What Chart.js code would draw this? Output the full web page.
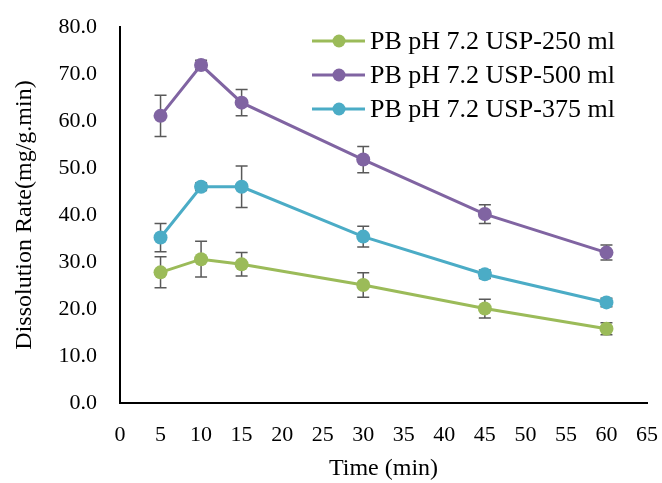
<!DOCTYPE html>
<html>
<head>
<meta charset="utf-8">
<script src="https://cdn.jsdelivr.net/npm/chart.js@4.4.0/dist/chart.umd.min.js"></script>
<style>
  html, body { margin: 0; padding: 0; background: #fff; }
  #wrap { width: 662px; height: 483px; }
</style>
</head>
<body>
<div id="wrap"><canvas id="dissolutionChart"></canvas></div>
<script>
const times = [5, 10, 15, 30, 45, 60];
const xTicks = [0, 5, 10, 15, 20, 25, 30, 35, 40, 45, 50, 55, 60, 65];
const yTicks = [0, 10, 20, 30, 40, 50, 60, 70, 80];

const labels = ['PB pH 7.2 USP-250 ml', 'PB pH 7.2 USP-500 ml', 'PB pH 7.2 USP-375 ml'];
const usp250 = [27.8, 30.6, 29.5, 25.1, 20.1, 15.8];
const usp500 = [61.1, 71.9, 63.9, 51.8, 40.2, 32.0];
const usp375 = [35.2, 46.0, 46.0, 35.4, 27.4, 21.4];
const err250 = [3.3, 3.8, 2.5, 2.6, 2.0, 1.3];
const err500 = [4.4, 1.0, 2.8, 2.8, 2.0, 1.6];
const err375 = [3.0, 0.8, 4.4, 2.2, 0.9, 0.9];

const colors = ['#9BBB59', '#8064A2', '#4BACC6'];
const serif = '"Liberation Serif", "Times New Roman", serif';

function toPoints(vals) {
    return times.map((t, i) => ({ x: t, y: vals[i] }));
}

const series = [usp250, usp500, usp375];
const errors = [err250, err500, err375];

const errorBars = {
    id: 'errorBars',
    beforeDatasetsDraw(chart) {
        const { ctx, scales: { x, y } } = chart;
        ctx.save();
        ctx.strokeStyle = '#595959';
        ctx.lineWidth = 1.5;
        series.forEach((vals, s) => {
            vals.forEach((v, i) => {
                const px = x.getPixelForValue(times[i]);
                const top = y.getPixelForValue(v + errors[s][i]);
                const bot = y.getPixelForValue(v - errors[s][i]);
                ctx.beginPath();
                ctx.moveTo(px, top); ctx.lineTo(px, bot);
                ctx.moveTo(px - 6, top); ctx.lineTo(px + 6, top);
                ctx.moveTo(px - 6, bot); ctx.lineTo(px + 6, bot);
                ctx.stroke();
            });
        });
        ctx.restore();
    }
};

// legend drawn inside the plot, Excel style (line with a marker)
const insideLegend = {
    id: 'insideLegend',
    afterDraw(chart) {
        const ctx = chart.ctx;
        ctx.save();
        ctx.font = '26px ' + serif;
        ctx.textBaseline = 'middle';
        chart.data.datasets.forEach((ds, i) => {
            const yy = 41 + i * 34;
            ctx.strokeStyle = ds.borderColor;
            ctx.lineWidth = 3;
            ctx.beginPath();
            ctx.moveTo(312, yy); ctx.lineTo(365, yy);
            ctx.stroke();
            ctx.fillStyle = ds.borderColor;
            ctx.beginPath();
            ctx.arc(339, yy, 6.5, 0, Math.PI * 2);
            ctx.fill();
            ctx.fillStyle = '#000';
            ctx.fillText(ds.label, 370, yy + 1);
        });
        ctx.restore();
    }
};

const ctx = document.getElementById('dissolutionChart').getContext('2d');

new Chart(ctx, {
    type: 'line',
    data: {
        datasets: series.map((vals, i) => ({
            label: labels[i],
            data: toPoints(vals),
            borderColor: colors[i],
            backgroundColor: colors[i],
            borderWidth: 3,
            pointRadius: 7,
            pointHoverRadius: 7,
            pointBorderWidth: 0,
            tension: 0
        }))
    },
    options: {
        responsive: true,
        maintainAspectRatio: false,
        animation: false,
        layout: { padding: { top: 27, right: 15, left: 0, bottom: 0 } },
        plugins: {
            legend: { display: false },
            tooltip: { enabled: false }
        },
        scales: {
            x: {
                type: 'linear',
                min: 0,
                max: 65,
                afterBuildTicks: (scale) => { scale.ticks = xTicks.map(v => ({ value: v })); },
                afterFit: (scale) => {
                    scale.height = 80;
                    scale.paddingLeft = 0;
                    scale.paddingRight = 0;
                },
                grid: { display: false, drawTicks: false },
                border: { display: true, color: '#000', width: 2 },
                ticks: { color: '#000', font: { family: serif, size: 22 }, padding: 19, maxRotation: 0 },
                title: {
                    display: true,
                    text: 'Time (min)',
                    color: '#000',
                    font: { family: serif, size: 24 },
                    padding: { top: 0, bottom: 0 }
                }
            },
            y: {
                min: 0,
                max: 80,
                afterBuildTicks: (scale) => { scale.ticks = yTicks.map(v => ({ value: v })); },
                afterFit: (scale) => {
                    scale.width = 120;
                    scale.paddingTop = 0;
                    scale.paddingBottom = 0;
                },
                grid: { display: false, drawTicks: false },
                border: { display: true, color: '#000', width: 2 },
                ticks: {
                    color: '#000',
                    font: { family: serif, size: 22 },
                    padding: 23,
                    callback: (v) => Number(v).toFixed(1)
                },
                title: {
                    display: true,
                    text: 'Dissolution Rate(mg/g.min)',
                    color: '#000',
                    font: { family: serif, size: 24 },
                    padding: { top: 10, bottom: 0 }
                }
            }
        }
    },
    plugins: [errorBars, insideLegend]
});
</script>
</body>
</html>
